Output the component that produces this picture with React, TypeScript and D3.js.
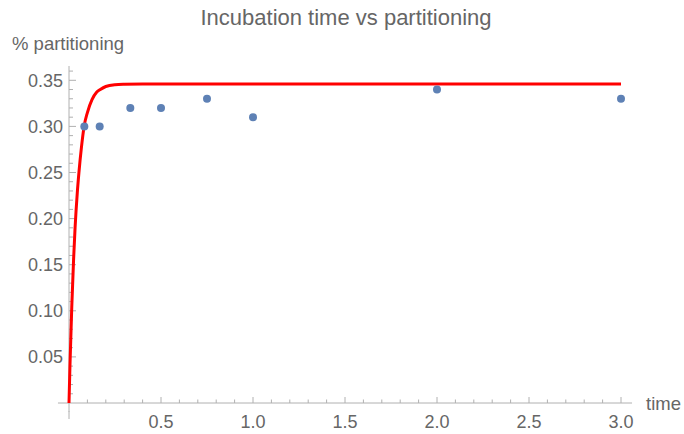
import React from "react";
import * as d3 from "d3";

const timePoints = [0.0833, 0.1667, 0.3333, 0.5, 0.75, 1.0, 2.0, 3.0];
const partitionValues = [0.30, 0.30, 0.32, 0.32, 0.33, 0.31, 0.34, 0.33];

const fitTimes = [0, 0.005, 0.015, 0.025, 0.033, 0.045, 0.054, 0.068, 0.082, 0.1, 0.125, 0.15, 0.17, 0.2, 0.25, 0.3, 0.4, 3.0];
const fitValues = [0, 0.039, 0.104, 0.156, 0.19, 0.228, 0.25, 0.278, 0.30, 0.315, 0.329, 0.337, 0.340, 0.3433, 0.3452, 0.3457, 0.346, 0.346];

const xMajorTicks = [0.5, 1.0, 1.5, 2.0, 2.5, 3.0];
const yMajorTicks = [0.05, 0.1, 0.15, 0.2, 0.25, 0.3, 0.35];

const title = "Incubation time vs partitioning";
const xLabel = "time";
const yLabel = "% partitioning";

const W = 684;
const H = 434;
const FONT = "'Liberation Sans', Arial, sans-serif";
const TEXT = "#666666";
const AXIS = "#b0b0b0";

export default function App() {
  const x = d3.scaleLinear().domain([0, 3]).range([69, 621]);
  const y = d3.scaleLinear().domain([0, 0.35]).range([403, 80.3]);
  const xDom = [-0.06, 3.06];
  const yDom = [-0.0095, 0.3655];

  const xMinor = d3.range(1, 31).map((i) => i / 10).filter((v) => !xMajorTicks.some((m) => Math.abs(m - v) < 1e-6));
  const yMinor = d3.range(1, 37).map((i) => i / 100).filter((v) => !yMajorTicks.some((m) => Math.abs(m - v) < 1e-6));

  const line = d3
    .line<number>()
    .x((_, i) => x(fitTimes[i]))
    .y((d) => y(d))
    .curve(d3.curveMonotoneX);

  return (
    <svg width={W} height={H} style={{ position: "absolute", left: 0, top: 0 }} fontFamily={FONT}>
      <rect width={W} height={H} fill="white" />
      <text x={346} y={25} textAnchor="middle" fontSize={22} fill={TEXT}>{title}</text>
      <text x={12} y={50} fontSize={18.5} fill={TEXT}>{yLabel}</text>
      <text x={646} y={410} fontSize={18.5} fill={TEXT}>{xLabel}</text>

      {/* axes */}
      <line x1={x(xDom[0])} x2={x(xDom[1])} y1={y(0)} y2={y(0)} stroke={AXIS} strokeWidth={1} />
      <line x1={x(0)} x2={x(0)} y1={y(yDom[0])} y2={y(yDom[1])} stroke={AXIS} strokeWidth={1} />
      <line x1={x(0)} x2={x(0)} y1={y(0) + 8} y2={y(0) + 16} stroke={AXIS} strokeWidth={1} />

      {xMajorTicks.map((t) => (
        <g key={"xt" + t}>
          <line x1={x(t)} x2={x(t)} y1={y(0)} y2={y(0) - 6} stroke={AXIS} />
          <text x={x(t)} y={428} textAnchor="middle" fontSize={18} fill={TEXT}>{t.toFixed(1)}</text>
        </g>
      ))}
      {xMinor.map((t) => (
        <line key={"xm" + t} x1={x(t)} x2={x(t)} y1={y(0)} y2={y(0) - 3.5} stroke={AXIS} />
      ))}
      {yMajorTicks.map((t) => (
        <g key={"yt" + t}>
          <line x1={x(0)} x2={x(0) + 7} y1={y(t)} y2={y(t)} stroke={AXIS} />
          <text x={63} y={y(t) + 6.5} textAnchor="end" fontSize={18} fill={TEXT}>{t.toFixed(2)}</text>
        </g>
      ))}
      {yMinor.map((t) => (
        <line key={"ym" + t} x1={x(0)} x2={x(0) + 4} y1={y(t)} y2={y(t)} stroke={AXIS} />
      ))}

      <path d={line(fitValues) || ""} fill="none" stroke="#ff0000" strokeWidth={3} />

      {timePoints.map((t, i) => (
        <circle key={"p" + i} cx={x(t)} cy={y(partitionValues[i])} r={4} fill="#5e81b5" />
      ))}
    </svg>
  );
}
